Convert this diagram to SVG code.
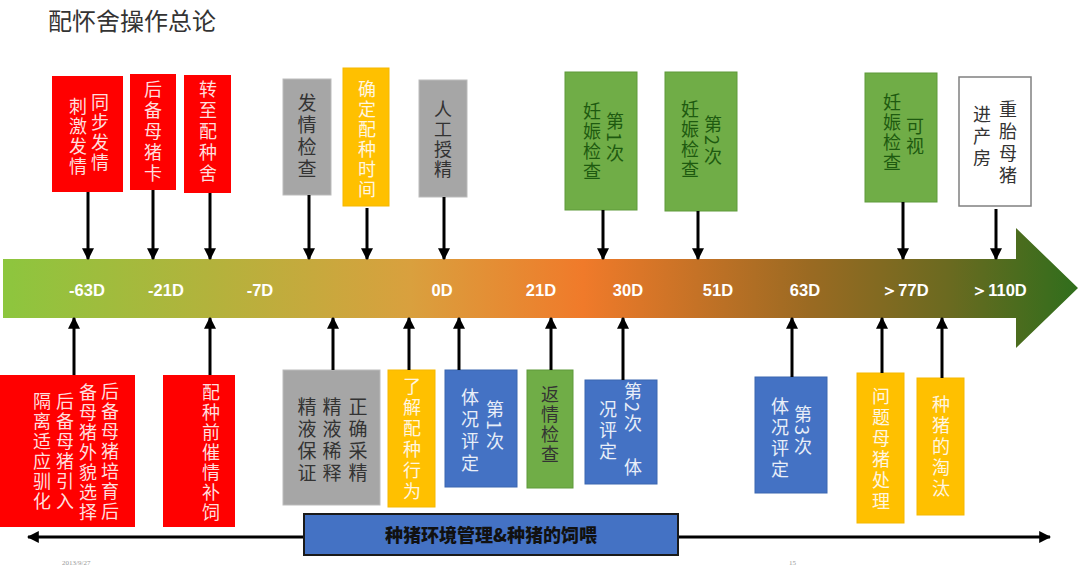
<svg xmlns="http://www.w3.org/2000/svg" width="1080" height="569" viewBox="0 0 1080 569">
<style>
.v{writing-mode:vertical-rl;font-family:"Noto Sans CJK SC","Noto Sans CJK JP",sans-serif;font-size:18px;letter-spacing:2px}
.wt{fill:#ffdede}
.wy{fill:#fff6e0}
.wb{fill:#e8eef8}
.dk{fill:#333333}
.dg{fill:#1e5a10}
.red{fill:#ff0000}
.gray{fill:#a6a6a6;stroke:#bbbbbb;stroke-width:1}
.yel{fill:#ffc000;stroke:#f5b800;stroke-width:1}
.grn{fill:#70ad47;stroke:#5e9a3a;stroke-width:1}
.blu{fill:#4472c4;stroke:#3a66b0;stroke-width:1}
.lbl{font-family:"Liberation Sans",Arial,sans-serif;font-weight:bold;font-size:16.5px;fill:#ffffff;text-anchor:middle}
.con line{stroke:#000;stroke-width:3}
</style>
<defs>
<linearGradient id="g" gradientUnits="userSpaceOnUse" x1="0" y1="0" x2="1080" y2="0">
<stop offset="0" stop-color="#8cc63e"/>
<stop offset="0.2" stop-color="#b4b23c"/>
<stop offset="0.38" stop-color="#d9a03e"/>
<stop offset="0.54" stop-color="#f07a2a"/>
<stop offset="0.75" stop-color="#9a6a22"/>
<stop offset="0.88" stop-color="#6a6a20"/>
<stop offset="1" stop-color="#2f6e1c"/>
</linearGradient>
<marker id="ah" viewBox="0 0 10 10" refX="9" refY="5" markerUnits="userSpaceOnUse" markerWidth="12" markerHeight="12" orient="auto-start-reverse">
<path d="M0,0 L10,5 L0,10 z" fill="#000"/>
</marker>
</defs>
<rect width="1080" height="569" fill="#ffffff"/>
<text x="48" y="30" font-family="Noto Sans CJK SC,sans-serif" font-size="24" fill="#333">配怀舍操作总论</text>

<g id="timeline">
<polygon points="3,259 1016,259 1016,228 1078,288 1016,348 1016,318 3,318" fill="url(#g)"/>
<text class="lbl" x="87" y="296">-63D</text>
<text class="lbl" x="166" y="296">-21D</text>
<text class="lbl" x="260" y="296">-7D</text>
<text class="lbl" x="442" y="296">0D</text>
<text class="lbl" x="541" y="296">21D</text>
<text class="lbl" x="628" y="296">30D</text>
<text class="lbl" x="718" y="296">51D</text>
<text class="lbl" x="805" y="296">63D</text>
<text class="lbl" x="905" y="296" font-family="Noto Sans CJK SC,sans-serif">＞77D</text>
<text class="lbl" x="999" y="296" font-family="Noto Sans CJK SC,sans-serif">＞110D</text>
</g>

<g id="n-t1"><rect class="red" x="52" y="76" width="71" height="116"/>
<text class="v wt" x="100" y="93">同步发情</text><text class="v wt" x="78" y="97">刺激发情</text></g>
<g id="n-t2"><rect class="red" x="130" y="74" width="46" height="116"/>
<text class="v wt" x="153" y="80" style="letter-spacing:3px">后备母猪卡</text></g>
<g id="n-t3"><rect class="red" x="184" y="75" width="47" height="118"/>
<text class="v wt" x="208" y="80" style="letter-spacing:3px">转至配种舍</text></g>
<g id="n-t4"><rect class="gray" x="283" y="79" width="48" height="116"/>
<text class="v dk" x="307" y="93" style="font-size:19px;letter-spacing:3px">发情检查</text></g>
<g id="n-t5"><rect class="yel" x="343" y="68" width="46" height="138"/>
<text class="v wy" x="367" y="80">确定配种时间</text></g>
<g id="n-t6"><rect class="gray" x="419" y="80" width="48" height="117"/>
<text class="v dk" x="443" y="100">人工授精</text></g>
<g id="n-t7"><rect class="grn" x="565" y="72" width="72" height="138"/>
<text class="v dg" x="615" y="112">第1次</text><text class="v dg" x="592" y="102">妊娠检查</text></g>
<g id="n-t8"><rect class="grn" x="665" y="72" width="72" height="139"/>
<text class="v dg" x="713" y="115">第2次</text><text class="v dg" x="690" y="100">妊娠检查</text></g>
<g id="n-t9"><rect class="grn" x="865" y="73" width="72" height="129"/>
<text class="v dg" x="915" y="117">可视</text><text class="v dg" x="892" y="93">妊娠检查</text></g>
<g id="n-t10"><rect x="959" y="77" width="72" height="129" fill="#fff" stroke="#808080" stroke-width="1.5"/>
<text class="v dk" x="1008" y="100" style="letter-spacing:4px">重胎母猪</text><text class="v dk" x="982" y="105" style="letter-spacing:4px">进产房</text></g>

<g id="n-b1"><rect class="red" x="0" y="375" width="135" height="152"/>
<text class="v wt" x="110" y="382">后备母猪培育后</text>
<text class="v wt" x="88" y="383">备母猪外貌选择</text>
<text class="v wt" x="65" y="392">后备母猪引入</text>
<text class="v wt" x="42" y="392">隔离适应驯化</text></g>
<g id="n-b2"><rect class="red" x="163" y="375" width="72" height="152"/>
<text class="v wt" x="211" y="383">配种前催情补饲</text></g>
<g id="n-b3"><rect class="gray" x="283" y="370" width="97" height="135"/>
<text class="v dk" x="358" y="397" style="font-size:19px;letter-spacing:3px">正确采精</text>
<text class="v dk" x="332" y="397" style="font-size:19px;letter-spacing:3px">精液稀释</text>
<text class="v dk" x="307" y="397" style="font-size:19px;letter-spacing:3px">精液保证</text></g>
<g id="n-b4"><rect class="yel" x="388" y="370" width="47" height="137"/>
<text class="v wy" x="412" y="377" style="letter-spacing:3px">了解配种行为</text></g>
<g id="n-b5"><rect class="blu" x="445" y="370" width="72" height="117"/>
<text class="v wb" x="495" y="400">第1次</text><text class="v wb" x="470" y="388" style="letter-spacing:4px">体况评定</text></g>
<g id="n-b6"><rect class="grn" x="527" y="370" width="46" height="118"/>
<text class="v dk" x="550" y="385">返情检查</text></g>
<g id="n-b7"><rect class="blu" x="585" y="380" width="72" height="104"/>
<text class="v wb" x="633" y="382">第2次</text><text class="v wb" x="633" y="458">体</text>
<text class="v wb" x="608" y="400" style="letter-spacing:3px">况评定</text></g>
<g id="n-b8"><rect class="blu" x="755" y="377" width="72" height="116"/>
<text class="v wb" x="803" y="405">第3次</text><text class="v wb" x="780" y="397" style="letter-spacing:3px">体况评定</text></g>
<g id="n-b9"><rect class="yel" x="857" y="373" width="47" height="150"/>
<text class="v wy" x="881" y="387" style="letter-spacing:3px">问题母猪处理</text></g>
<g id="n-b10"><rect class="yel" x="917" y="378" width="47" height="137"/>
<text class="v wy" x="941" y="395" style="letter-spacing:3px">种猪的淘汰</text></g>

<g id="connectors" class="con">
<line x1="88" y1="192" x2="88" y2="259" marker-end="url(#ah)"/>
<line x1="153" y1="190" x2="153" y2="259" marker-end="url(#ah)"/>
<line x1="210" y1="193" x2="210" y2="259" marker-end="url(#ah)"/>
<line x1="309" y1="195" x2="309" y2="259" marker-end="url(#ah)"/>
<line x1="367" y1="208" x2="367" y2="259" marker-end="url(#ah)"/>
<line x1="444" y1="197" x2="444" y2="259" marker-end="url(#ah)"/>
<line x1="603" y1="210" x2="603" y2="259" marker-end="url(#ah)"/>
<line x1="698" y1="211" x2="698" y2="259" marker-end="url(#ah)"/>
<line x1="903" y1="202" x2="903" y2="259" marker-end="url(#ah)"/>
<line x1="996" y1="209" x2="996" y2="259" marker-end="url(#ah)"/>
<line x1="74" y1="375" x2="74" y2="318" marker-end="url(#ah)"/>
<line x1="210" y1="375" x2="210" y2="318" marker-end="url(#ah)"/>
<line x1="333" y1="370" x2="333" y2="318" marker-end="url(#ah)"/>
<line x1="409" y1="370" x2="409" y2="318" marker-end="url(#ah)"/>
<line x1="459" y1="370" x2="459" y2="318" marker-end="url(#ah)"/>
<line x1="551" y1="370" x2="551" y2="318" marker-end="url(#ah)"/>
<line x1="623" y1="380" x2="623" y2="318" marker-end="url(#ah)"/>
<line x1="792" y1="377" x2="792" y2="318" marker-end="url(#ah)"/>
<line x1="882" y1="373" x2="882" y2="318" marker-end="url(#ah)"/>
<line x1="942" y1="378" x2="942" y2="318" marker-end="url(#ah)"/>
<line x1="28" y1="537" x2="1050" y2="537" marker-start="url(#ah)" marker-end="url(#ah)"/>
</g>

<g id="n-footer">
<rect x="304" y="514" width="374" height="41" fill="#4472c4" stroke="#1a1a1a" stroke-width="2"/>
<text x="491" y="542" text-anchor="middle" font-family="Noto Sans CJK SC,sans-serif" font-size="18" font-weight="900" fill="#111">种猪环境管理&amp;种猪的饲喂</text>
</g>
<text x="62" y="565" font-family="Liberation Serif,serif" font-size="7" fill="#999">2013/9/27</text>
<text x="789" y="565" font-family="Liberation Serif,serif" font-size="7" fill="#999">15</text>
</svg>
